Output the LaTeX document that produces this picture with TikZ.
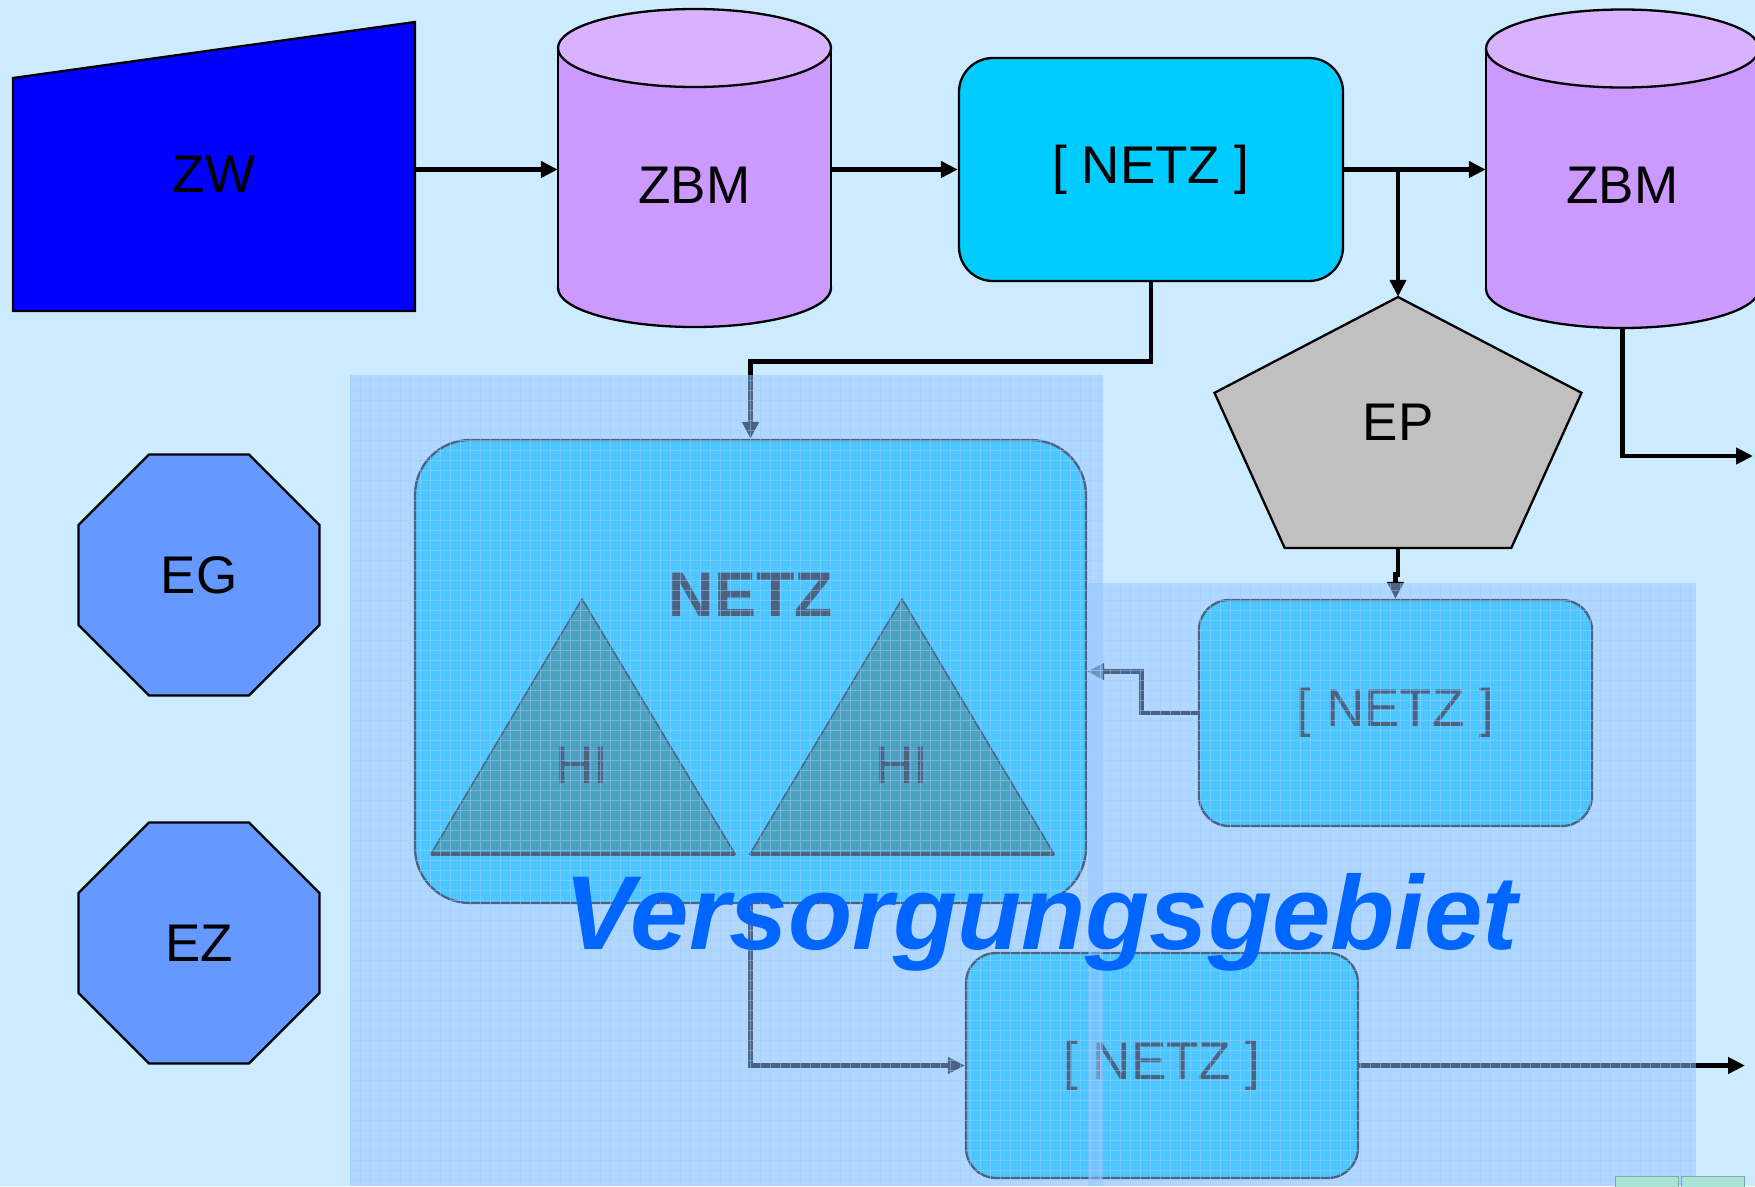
\documentclass[tikz,border=0pt]{standalone}
\usepackage{fontspec}
\setmainfont{Liberation Sans}
\usetikzlibrary{arrows.meta,shapes.geometric}

\definecolor{hintergrund}{RGB}{204,235,255}
\definecolor{zwblau}{RGB}{0,0,255}
\definecolor{zbmlila}{RGB}{204,153,255}
\definecolor{zbmdeckel}{RGB}{217,178,255}
\definecolor{netzcyan}{RGB}{0,204,255}
\definecolor{epgrau}{RGB}{192,192,192}
\definecolor{ebene}{RGB}{102,153,255}
\definecolor{hiteal}{RGB}{0,128,128}
\definecolor{gebiet}{RGB}{151,196,255}
\definecolor{gitterfarbe}{RGB}{160,205,255}
\definecolor{gebietschrift}{RGB}{0,102,255}
\definecolor{knopf}{RGB}{170,226,216}
\definecolor{knopfrand}{RGB}{120,170,160}

\begin{document}
\begin{tikzpicture}[x=1pt, y=-1pt,
  pfeil/.style={line width=4.8pt, -{Triangle[length=17pt,width=16pt]}},
  kasten/.style={draw, line width=2.3pt, fill=netzcyan, rounded corners=30pt},
  beschriftung/.style={font=\fontsize{53}{60}\selectfont, inner sep=0pt},
  ebenenknoten/.style={regular polygon, regular polygon sides=8, minimum size=261pt,
    draw, line width=2.3pt, fill=ebene, beschriftung},
  gitter/.style={draw=gitterfarbe, line width=1pt, opacity=0.5}]
  \useasboundingbox (0,0) rectangle (1755,1186);
  \fill[hintergrund] (0,0) rectangle (1755,1186);

  \filldraw[fill=zwblau, line width=2.3pt] (13,78) -- (415,22) -- (415,311) -- (13,311) -- cycle;
  \node[beschriftung, minimum width=402pt] (zw) at (214,174) {ZW};

  \filldraw[fill=zbmlila, line width=2.3pt] (694.5,288) ellipse[x radius=136.5, y radius=39];
  \fill[zbmlila] (558,48) rectangle (831,288);
  \draw[line width=2.3pt] (558,48) -- (558,288) (831,48) -- (831,288);
  \filldraw[fill=zbmdeckel, line width=2.3pt] (694.5,48) ellipse[x radius=136.5, y radius=39];
  \node[beschriftung, minimum width=273pt, minimum height=284pt] (zbma) at (694.5,185) {ZBM};

  \filldraw[fill=zbmlila, line width=2.3pt] (1622.5,289) ellipse[x radius=136.5, y radius=39];
  \fill[zbmlila] (1486,48.5) rectangle (1759,289);
  \draw[line width=2.3pt] (1486,48.5) -- (1486,289) (1759,48.5) -- (1759,289);
  \filldraw[fill=zbmdeckel, line width=2.3pt] (1622.5,48.5) ellipse[x radius=136.5, y radius=39];
  \node[beschriftung, minimum width=273pt, minimum height=286pt] (zbmb) at (1622.5,185) {ZBM};

  \node[kasten, rounded corners=34pt, beschriftung, minimum width=384pt, minimum height=223pt] (netzo) at (1151,169.5) {[ NETZ ]};

  \filldraw[fill=epgrau, line width=2.3pt] (1398,297) -- (1581.5,392.8) -- (1511.3,548) -- (1284.7,548) -- (1214.5,392.8) -- cycle;
  \node[beschriftung, minimum height=251pt] (ep) at (1398,422.5) {EP};

  \node[ebenenknoten] (eg) at (199,575) {EG};
  \node[ebenenknoten] (ez) at (199,943) {EZ};

  \node[kasten, rounded corners=55pt, minimum width=671pt, minimum height=463pt] (netzg) at (750.5,671.5) {};
  \node[font=\bfseries\fontsize{63}{70}\selectfont, inner sep=0pt] (netzgtext) at (751,595) {NETZ};
  \filldraw[fill=hiteal, line width=1.5pt] (582,599) -- (735,854) -- (431,854) -- cycle;
  \draw[line width=4pt] (431,854) -- (735,854);
  \filldraw[fill=hiteal, line width=1.5pt] (902,599) -- (1054,854) -- (750,854) -- cycle;
  \draw[line width=4pt] (750,854) -- (1054,854);
  \node[beschriftung] (hia) at (582,765) {HI};
  \node[beschriftung] (hib) at (902,765) {HI};

  \node[kasten, beschriftung, minimum width=393pt, minimum height=226pt] (netzr) at (1395.5,713) {[ NETZ ]};
  \node[kasten, beschriftung, minimum width=392pt, minimum height=225pt] (netzu) at (1162,1065.5) {[ NETZ ]};

  \coordinate (aus1) at (1753,456);
  \coordinate (aus2) at (1745,1065.5);

  \draw[pfeil] (zw.east |- netzo.west) -- (zbma.west |- netzo.west);
  \draw[pfeil] (zbma.east |- netzo.west) -- (netzo.west);
  \draw[pfeil] (netzo.east) -- (netzo.east -| zbmb.west);
  \draw[pfeil] (netzo.east -| ep.north) -- (ep.north);
  \draw[pfeil] (zbmb.south) |- (aus1);
  \draw[pfeil] (netzo.south) -- ++(0,79) -| (netzg.north);
  \draw[pfeil] (ep.south) -- ++(0,26) -| (netzr.north);
  \draw[pfeil] (netzr.west) -- ++(-56,0) |- (netzg.east);
  \draw[pfeil] (netzg.south) |- (netzu.west);
  \draw[pfeil] (netzu.east) -- (aus2);

  \fill[gebiet, opacity=0.5] (350,375) rectangle (1103,1186);
  \fill[gebiet, opacity=0.5] (1088,583) rectangle (1696,1186);
  \draw[gitter, step=10pt] (350,375) grid (1103,1186);
  \draw[gitter, step=10pt] (1088,583) grid (1696,1186);

  \node[font=\bfseries\itshape\fontsize{105}{110}\selectfont, text=gebietschrift, anchor=base] (gebiet) at (1041,949) {Versorgungsgebiet};

  \filldraw[fill=knopf, draw=knopfrand, line width=1pt] (1615,1176) rectangle (1678,1192);
  \filldraw[fill=knopf, draw=knopfrand, line width=1pt] (1681,1176) rectangle (1744,1192);
\end{tikzpicture}
\end{document}
